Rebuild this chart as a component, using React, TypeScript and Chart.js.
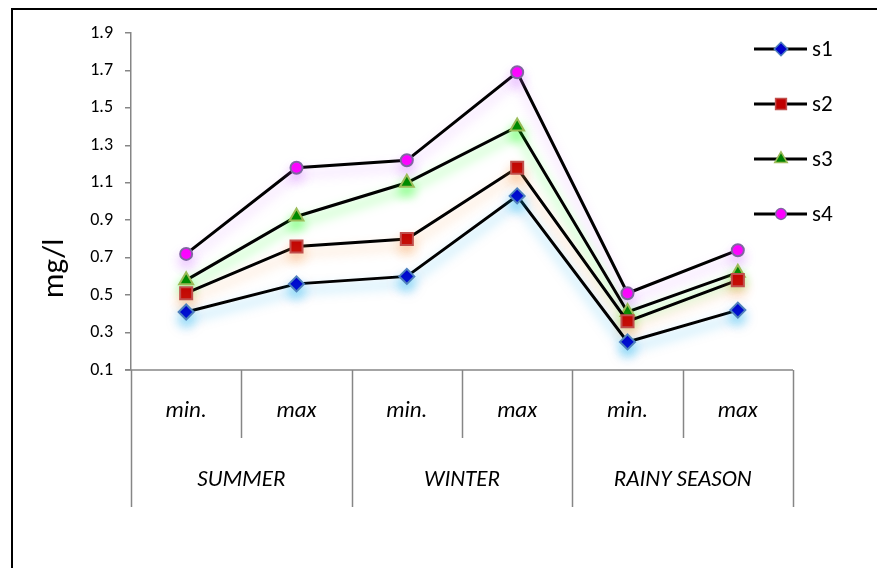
import React, { useEffect, useRef } from 'react';
import { Chart, registerables } from 'chart.js';
import { drawPoint } from 'chart.js/helpers';

Chart.register(...registerables);

const categories = ['min.', 'max', 'min.', 'max', 'min.', 'max'];
const groups = ['SUMMER', 'WINTER', 'RAINY SEASON'];
const seriesNames = ['s1', 's2', 's3', 's4'];
const s1 = [0.41, 0.56, 0.6, 1.03, 0.25, 0.42];
const s2 = [0.51, 0.76, 0.8, 1.18, 0.36, 0.58];
const s3 = [0.58, 0.92, 1.1, 1.4, 0.41, 0.62];
const s4 = [0.72, 1.18, 1.22, 1.69, 0.51, 0.74];
const yTicks = [0.1, 0.3, 0.5, 0.7, 0.9, 1.1, 1.3, 1.5, 1.7, 1.9];
const yTitle = 'mg/l';

const FONT = "Carlito, Lato, 'Open Sans', sans-serif";

const styles = [
  { pointStyle: 'rectRot', fill: '#0000CC', border: '#4F81BD', radius: 7.5, glow: 'rgba(0,170,240,0.5)' },
  { pointStyle: 'rect', fill: '#C00000', border: '#C0504D', radius: 8.5, glow: 'rgba(247,150,70,0.45)' },
  { pointStyle: 'triangle', fill: '#008000', border: '#9BBB59', radius: 8, glow: 'rgba(0,255,0,0.5)' },
  { pointStyle: 'circle', fill: '#FF00FF', border: '#8064A2', radius: 6, glow: 'rgba(204,102,255,0.4)' },
];

const glowPlugin = {
  id: 'glow',
  beforeDatasetDraw(chart: any, args: any) {
    const ctx = chart.ctx;
    ctx.save();
    ctx.shadowColor = styles[args.index].glow;
    ctx.shadowBlur = 12;
    ctx.shadowOffsetX = 0;
    ctx.shadowOffsetY = 7;
  },
  afterDatasetDraw(chart: any) {
    chart.ctx.restore();
  },
};

const decorPlugin = {
  id: 'decor',
  afterDraw(chart: any) {
    const ctx = chart.ctx;
    const area = chart.chartArea;
    const x = chart.scales.x;
    const n = categories.length;
    const step = x.getPixelForValue(1) - x.getPixelForValue(0);
    const edge = (i: number) => x.getPixelForValue(0) - step / 2 + i * step;
    const gray = '#868686';

    ctx.save();
    // frame
    ctx.strokeStyle = '#000';
    ctx.lineWidth = 2;
    ctx.beginPath();
    ctx.moveTo(12, 568);
    ctx.lineTo(12, 9);
    ctx.lineTo(877, 9);
    ctx.stroke();

    // x-axis line
    ctx.strokeStyle = gray;
    ctx.lineWidth = 1.5;
    ctx.beginPath();
    ctx.moveTo(area.left - 6, area.bottom);
    ctx.lineTo(edge(n), area.bottom);
    ctx.stroke();

    // separators
    for (let i = 0; i <= n; i++) {
      const ex = Math.round(edge(i)) + 0.5;
      const isGroup = i % 2 === 0;
      ctx.beginPath();
      ctx.moveTo(ex, area.bottom);
      ctx.lineTo(ex, area.bottom + (isGroup ? 137 : 68));
      ctx.stroke();
    }

    // category labels
    ctx.fillStyle = '#000';
    ctx.font = `italic 23px ${FONT}`;
    ctx.textAlign = 'center';
    ctx.textBaseline = 'middle';
    categories.forEach((c, i) => {
      ctx.fillText(c, x.getPixelForValue(i), area.bottom + 41);
    });
    groups.forEach((g, i) => {
      const cx = (edge(i * 2) + edge(i * 2 + 2)) / 2;
      ctx.fillText(g, cx, area.bottom + 110);
    });

    // y title
    ctx.save();
    ctx.translate(55, (area.top + area.bottom) / 2 + 67);
    ctx.rotate(-Math.PI / 2);
    ctx.font = `31px ${FONT}`;
    ctx.fillText(yTitle, 0, 0);
    ctx.restore();

    // legend
    seriesNames.forEach((name, i) => {
      const ly = 49 + i * 55;
      ctx.strokeStyle = '#000';
      ctx.lineWidth = 3;
      ctx.beginPath();
      ctx.moveTo(754, ly);
      ctx.lineTo(807, ly);
      ctx.stroke();
      const st = styles[i];
      ctx.fillStyle = st.fill;
      ctx.strokeStyle = st.border;
      ctx.lineWidth = 1.5;
      drawPoint(ctx, { pointStyle: st.pointStyle as any, radius: st.radius * 0.9, rotation: 0, borderWidth: 1.5 }, 781, ly);
      ctx.fillStyle = '#000';
      ctx.font = `23px ${FONT}`;
      ctx.textAlign = 'left';
      ctx.textBaseline = 'middle';
      ctx.fillText(name, 812, ly + 1);
    });
    ctx.restore();
  },
};

export default function App() {
  const ref = useRef<HTMLCanvasElement | null>(null);
  useEffect(() => {
    document.body.style.margin = '0';
    const all = [s1, s2, s3, s4];
    const chart = new Chart(ref.current as HTMLCanvasElement, {
      type: 'line',
      data: {
        labels: categories,
        datasets: all.map((d, i) => ({
          label: seriesNames[i],
          data: d,
          borderColor: '#000',
          borderWidth: 3,
          pointStyle: styles[i].pointStyle as any,
          pointRadius: styles[i].radius,
          pointBackgroundColor: styles[i].fill,
          pointBorderColor: styles[i].border,
          pointBorderWidth: 2,
          tension: 0,
          fill: false,
        })),
      },
      options: {
        animation: false,
        responsive: false,
        layout: { padding: { left: 0, top: 33, right: 84, bottom: 198 } },
        plugins: { legend: { display: false }, tooltip: { enabled: false } },
        scales: {
          x: { display: false, offset: true },
          y: {
            min: 0.1,
            max: 1.9,
            afterBuildTicks: (s: any) => {
              s.ticks = yTicks.map((v) => ({ value: v }));
            },
            afterFit: (s: any) => {
              s.width = 131;
            },
            ticks: {
              callback: (v: any) => Number(v).toFixed(1),
              font: { family: FONT, size: 18 },
              color: '#000',
              padding: 12,
            },
            grid: { drawOnChartArea: false, tickLength: 6, color: '#868686', lineWidth: 1.5 },
            border: { color: '#868686', width: 1.5 },
          },
        },
      },
      plugins: [glowPlugin, decorPlugin],
    });
    return () => chart.destroy();
  }, []);
  return (
    <div style={{ position: 'absolute', left: 0, top: 0, width: 877, height: 568 }}>
      <canvas ref={ref} width={877} height={568} style={{ width: 877, height: 568 }} />
    </div>
  );
}
